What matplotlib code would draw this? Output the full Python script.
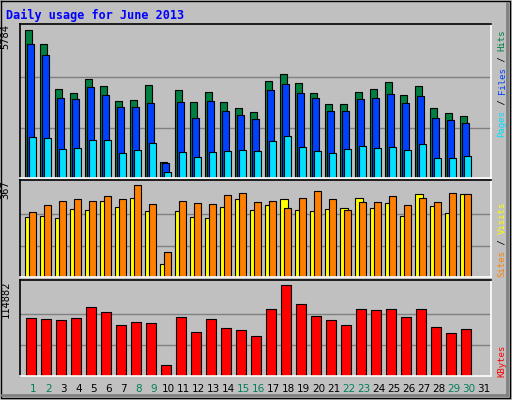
import matplotlib
matplotlib.use('Agg')
from matplotlib import pyplot as plt
import numpy as np

days = list(range(1, 32))
weekend = [1, 2, 8, 9, 15, 16, 22, 23, 29, 30]

# values (30 days with data, day 31 empty)
hits_px = [28, 70, 205, 217, 175, 196, 241, 238, 193, 421, 208, 244, 214, 244, 262,
           271, 181, 160, 187, 217, 250, 250, 214, 205, 184, 223, 196, 262, 274, 283]
files_px = [70, 103, 232, 235, 199, 223, 259, 259, 247, 424, 244, 289, 241, 268, 280,
            292, 208, 190, 217, 232, 268, 268, 235, 232, 220, 247, 226, 289, 295, 304]
pages_px = [346, 349, 382, 379, 355, 355, 394, 385, 364, 451, 391, 406, 391, 388, 385,
            388, 358, 343, 376, 388, 394, 382, 373, 379, 376, 385, 367, 409, 409, 403]
sites_px = [124, 121, 127, 100, 103, 76, 94, 67, 106, 265, 106, 124, 127, 94, 70,
            103, 88, 70, 103, 106, 100, 97, 67, 97, 82, 121, 55, 91, 112, 55]
visits_px = [109, 88, 76, 70, 76, 61, 70, 28, 85, 229, 76, 82, 85, 58, 52,
             79, 76, 97, 67, 46, 70, 103, 79, 79, 61, 88, 67, 79, 52, 55]
kb_px = [427, 430, 433, 427, 394, 409, 448, 439, 442, 568, 424, 469, 430, 457, 463,
         481, 400, 328, 385, 421, 433, 448, 400, 403, 400, 424, 400, 454, 472, 460]

max_hits, max_visits, max_kb = 5784, 367, 114882
hits = [(468 - p) / 440 * max_hits for p in hits_px]
files = [(468 - p) / 440 * max_hits for p in files_px]
pages = [(468 - p) / 440 * max_hits for p in pages_px]
sites = [(304 - p) / 276 * max_visits for p in sites_px]
visits = [(304 - p) / 276 * max_visits for p in visits_px]
kbytes = [(601 - p) / 273 * max_kb for p in kb_px]

W, H = 512, 400
X0, SLOT = 0.977, 15.0
fig = plt.figure(figsize=(W / 100, H / 100), dpi=100)
fig.patch.set_facecolor('#c0c0c0')
bg = fig.add_axes([0, 0, 1, 1])
bg.set_xlim(0, W); bg.set_ylim(H, 0); bg.axis('off')
bg.plot([1, W - 2, W - 2, 1, 1], [1, 1, H - 2, H - 2, 1], color='black', lw=1)
bg.plot([2, W - 5], [395, 395], color='#808080', lw=2)
bg.plot([W - 5, W - 5], [3, 395], color='#808080', lw=2)

fig.text(6 / W, 1 - 15 / H, 'Daily usage for June 2013', color='#0000ff',
         family='DejaVu Sans Mono', weight='bold', fontsize=8.5, va='center')


def panel(top, bottom):
    ax = fig.add_axes([20 / W, 1 - bottom / H, 471 / W, (bottom - top) / H])
    ax.set_facecolor('#c0c0c0')
    ax.set_xlim(X0, X0 + 471 / SLOT)
    ax.set_xticks([]); ax.set_yticks([])
    for s in ax.spines.values():
        s.set_color('white'); s.set_linewidth(1.2)
    ax.spines['top'].set_color('black')
    ax.spines['left'].set_color('black')
    return ax


x = np.array(days[:30])
ek = dict(edgecolor='black', linewidth=0.8)

ax1 = panel(24, 178)
ax1.set_ylim(0, max_hits * 153 / 147.5)
for f in (1 / 3, 2 / 3):
    ax1.axhline(max_hits * f * 1.02, color='#808080', lw=1, zorder=0)
ax1.bar(x + 0.33, hits, 0.46, align='edge', color='#008040', **ek)
ax1.bar(x + 0.46, files, 0.46, align='edge', color='#0040ff', **ek)
ax1.bar(x + 0.6, pages, 0.46, align='edge', color='#00e0ff', **ek)
ax1.text(-0.02, 1, str(max_hits), transform=ax1.transAxes, rotation=90,
         ha='right', va='top', fontsize=7.5, family='DejaVu Sans Mono')

ax2 = panel(180, 277)
ax2.set_ylim(0, max_visits * 97 / 92.5)
for f in (1 / 3, 2 / 3):
    ax2.axhline(max_visits * f * 1.02, color='#808080', lw=1, zorder=0)
ax2.bar(x + 0.33, sites, 0.5, align='edge', color='#ffff00', **ek)
ax2.bar(x + 0.6, visits, 0.46, align='edge', color='#ff8000', **ek)
ax2.text(-0.02, 1, str(max_visits), transform=ax2.transAxes, rotation=90,
         ha='right', va='top', fontsize=7.5, family='DejaVu Sans Mono')

ax3 = panel(280, 376)
ax3.set_ylim(0, max_kb * 96 / 91.5)
for f in (1 / 3, 2 / 3):
    ax3.axhline(max_kb * f * 1.02, color='#808080', lw=1, zorder=0)
ax3.bar(x + 0.38, kbytes, 0.66, align='edge', color='#ff0000', **ek)
ax3.text(-0.02, 1, str(max_kb), transform=ax3.transAxes, rotation=90,
         ha='right', va='top', fontsize=7.5, family='DejaVu Sans Mono')

for d in days:
    c = '#00805c' if d in weekend else 'black'
    bg.text(20 + (d + 0.87 - X0) * SLOT, 389, str(d), color=c, ha='center',
            va='center', fontsize=7.5)


def side_label(parts, y_bottom, step=5.4):
    # stacked rotated text, reading bottom to top
    y = y_bottom
    for txt, col in parts:
        bg.text(502, y, txt, color=col, rotation=90, ha='center', va='bottom',
                fontsize=6.5, family='DejaVu Sans Mono')
        y -= len(txt) * step


side_label([('Pages', '#00e0ff'), (' / ', 'black'), ('Files', '#0040ff'),
            (' / ', 'black'), ('Hits', '#008040')], 137)
side_label([('Sites', '#ff8000'), (' / ', 'black'), ('Visits', '#ffff00')], 277)
side_label([('KBytes', '#ff0000')], 377)

fig.savefig('out.png', dpi=100, facecolor=fig.get_facecolor())
